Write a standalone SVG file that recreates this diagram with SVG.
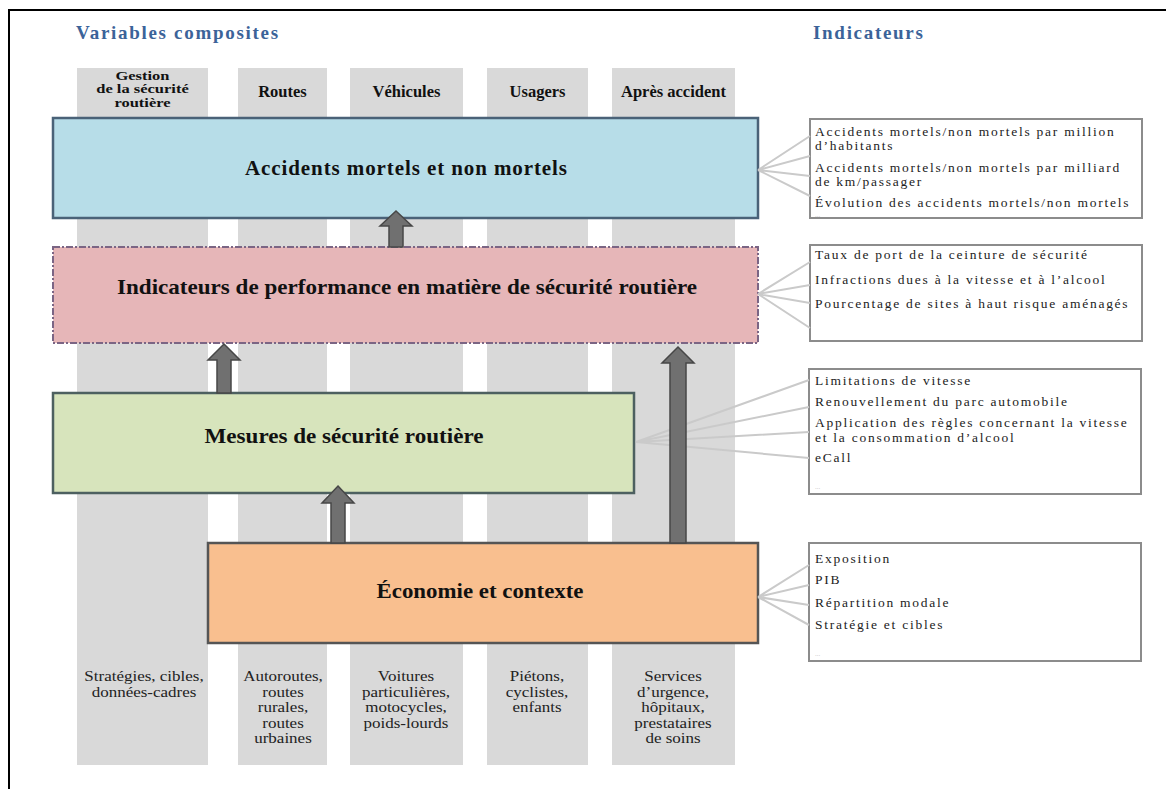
<svg xmlns="http://www.w3.org/2000/svg" width="1166" height="789" viewBox="0 0 1166 789">
<style>
.ttl{font-family:"Liberation Serif","Times New Roman",serif;font-weight:bold;font-size:19px;fill:#3b6399;letter-spacing:1.7px}
.col{fill:#d9d9d9}
.hd{font-family:"Liberation Serif","Times New Roman",serif;font-weight:bold;font-size:16.5px;fill:#111;text-anchor:middle}
.bt{font-family:"Liberation Serif","Times New Roman",serif;font-size:17px;fill:#222;text-anchor:middle}
.main{font-family:"Liberation Serif","Times New Roman",serif;font-weight:bold;font-size:21px;fill:#111;text-anchor:middle}
.ibox{fill:#fff;stroke:#8c8c8c;stroke-width:2}
.it{font-family:"Liberation Serif","Times New Roman",serif;font-size:13.5px;fill:#222;letter-spacing:1.75px}
.dots{font-family:"Liberation Serif","Times New Roman",serif;font-size:7px;fill:#c8c8c8}
.fan{stroke:#cacaca;stroke-width:2;fill:none}
.arr{fill:#707070;stroke:#474747;stroke-width:1.5;stroke-linejoin:miter}
</style>
<rect x="0" y="0" width="1166" height="789" fill="#fff"/>
<rect x="9" y="10" width="1170" height="800" fill="none" stroke="#000" stroke-width="2"/>

<text class="ttl" x="76" y="39">Variables composites</text>
<text class="ttl" x="813" y="39">Indicateurs</text>

<g id="columns">
<rect class="col" x="77" y="68" width="131" height="697"/>
<rect class="col" x="238" y="68" width="89" height="697"/>
<rect class="col" x="350" y="68" width="113" height="697"/>
<rect class="col" x="487" y="68" width="101" height="697"/>
<rect class="col" x="612" y="68" width="123" height="697"/>
</g>

<g id="col-headers">
<text class="hd" transform="matrix(1 0 0 0.74 142.5 79.5)">Gestion</text>
<text class="hd" transform="matrix(1 0 0 0.74 142.5 93)">de la sécurité</text>
<text class="hd" transform="matrix(1 0 0 0.74 142.5 106.5)">routière</text>
<text class="hd" x="282.5" y="97">Routes</text>
<text class="hd" x="406.5" y="97">Véhicules</text>
<text class="hd" x="537.5" y="97">Usagers</text>
<text class="hd" x="673.5" y="97">Après accident</text>
</g>

<g id="col-footers">
<text class="bt" transform="matrix(1 0 0 0.82 144 681)">Stratégies, cibles,</text>
<text class="bt" transform="matrix(1 0 0 0.82 144 696.5)">données-cadres</text>
<text class="bt" transform="matrix(1 0 0 0.82 283 681)">Autoroutes,</text>
<text class="bt" transform="matrix(1 0 0 0.82 283 696.5)">routes</text>
<text class="bt" transform="matrix(1 0 0 0.82 283 712)">rurales,</text>
<text class="bt" transform="matrix(1 0 0 0.82 283 727.5)">routes</text>
<text class="bt" transform="matrix(1 0 0 0.82 283 743)">urbaines</text>
<text class="bt" transform="matrix(1 0 0 0.82 406 681)">Voitures</text>
<text class="bt" transform="matrix(1 0 0 0.82 406 696.5)">particulières,</text>
<text class="bt" transform="matrix(1 0 0 0.82 406 712)">motocycles,</text>
<text class="bt" transform="matrix(1 0 0 0.82 406 727.5)">poids-lourds</text>
<text class="bt" transform="matrix(1 0 0 0.82 537 681)">Piétons,</text>
<text class="bt" transform="matrix(1 0 0 0.82 537 696.5)">cyclistes,</text>
<text class="bt" transform="matrix(1 0 0 0.82 537 712)">enfants</text>
<text class="bt" transform="matrix(1 0 0 0.82 673 681)">Services</text>
<text class="bt" transform="matrix(1 0 0 0.82 673 696.5)">d’urgence,</text>
<text class="bt" transform="matrix(1 0 0 0.82 673 712)">hôpitaux,</text>
<text class="bt" transform="matrix(1 0 0 0.82 673 727.5)">prestataires</text>
<text class="bt" transform="matrix(1 0 0 0.82 673 743)">de soins</text>
</g>

<g id="node-accidents">
<rect x="53" y="118" width="705" height="100" fill="#b7dde8" stroke="#4a6278" stroke-width="2.5"/>
<text class="main" x="406" y="175" textLength="322" lengthAdjust="spacing" font-size="20">Accidents mortels et non mortels</text>
</g>

<g id="node-indicateurs">
<rect x="53" y="247" width="705" height="96" fill="#e6b6b8" stroke="#7b6584" stroke-width="2" stroke-dasharray="7,2,2,2"/>
<text class="main" x="407" y="294" textLength="580" lengthAdjust="spacingAndGlyphs" font-size="23">Indicateurs de performance en matière de sécurité routière</text>
</g>

<g id="node-mesures">
<rect x="53" y="393" width="581" height="100" fill="#d7e4bc" stroke="#4d6060" stroke-width="2.5"/>
<text class="main" x="344" y="443" textLength="279" lengthAdjust="spacingAndGlyphs" font-size="22">Mesures de sécurité routière</text>
</g>

<g id="node-economie">
<rect x="208" y="543" width="550" height="100" fill="#f9bf8f" stroke="#555" stroke-width="2.5"/>
<text class="main" x="480" y="598" textLength="207" lengthAdjust="spacingAndGlyphs" font-size="22">Économie et contexte</text>
</g>

<g id="ind-accidents">
<rect class="ibox" x="810" y="119" width="332" height="99"/>
<text class="it" transform="matrix(1 0 0 0.92 815 136)">Accidents mortels/non mortels par million</text>
<text class="it" transform="matrix(1 0 0 0.92 815 150)">d’habitants</text>
<text class="it" transform="matrix(1 0 0 0.92 815 172)">Accidents mortels/non mortels par milliard</text>
<text class="it" transform="matrix(1 0 0 0.92 815 186)">de km/passager</text>
<text class="it" transform="matrix(1 0 0 0.92 815 207)">Évolution des accidents mortels/non mortels</text>
<text class="dots" x="815" y="216.5">...</text>
</g>

<g id="ind-performance">
<rect class="ibox" x="810" y="245" width="332" height="96"/>
<text class="it" transform="matrix(1 0 0 0.92 815 259)">Taux de port de la ceinture de sécurité</text>
<text class="it" transform="matrix(1 0 0 0.92 815 284)">Infractions dues à la vitesse et à l’alcool</text>
<text class="it" transform="matrix(1 0 0 0.92 815 308)">Pourcentage de sites à haut risque aménagés</text>
</g>

<g id="ind-mesures">
<rect class="ibox" x="809" y="369" width="332" height="125"/>
<text class="it" transform="matrix(1 0 0 0.92 815 385)">Limitations de vitesse</text>
<text class="it" transform="matrix(1 0 0 0.92 815 406)">Renouvellement du parc automobile</text>
<text class="it" transform="matrix(1 0 0 0.92 815 427)">Application des règles concernant la vitesse</text>
<text class="it" transform="matrix(1 0 0 0.92 815 442)">et la consommation d’alcool</text>
<text class="it" transform="matrix(1 0 0 0.92 815 462)">eCall</text>
<text class="dots" x="815" y="489">...</text>
</g>

<g id="ind-economie">
<rect class="ibox" x="809" y="543" width="332" height="118"/>
<text class="it" transform="matrix(1 0 0 0.92 815 563)">Exposition</text>
<text class="it" transform="matrix(1 0 0 0.92 815 584)">PIB</text>
<text class="it" transform="matrix(1 0 0 0.92 815 607)">Répartition modale</text>
<text class="it" transform="matrix(1 0 0 0.92 815 629)">Stratégie et cibles</text>
<text class="dots" x="815" y="656">...</text>
</g>

<g id="connectors">
<path class="fan" d="M758,170 L810,136 M758,170 L810,156 M758,170 L810,176 M758,170 L810,196"/>
<path class="fan" d="M758,294 L810,262 M758,294 L810,285 M758,294 L810,303 M758,294 L810,328"/>
<path class="fan" d="M636,442 L809,380 M636,442 L809,407 M636,442 L809,432 M636,442 L809,458"/>
<path class="fan" d="M758,597 L809,565 M758,597 L809,585 M758,597 L809,605 M758,597 L809,625"/>
<path class="arr" d="M396,211 L412,226 L403,226 L403,247 L389,247 L389,226 L380,226 Z"/>
<path class="arr" d="M224,344 L240,360 L231,360 L231,393 L217,393 L217,360 L208,360 Z"/>
<path class="arr" d="M338,486 L354,503 L345,503 L345,543 L331,543 L331,503 L322,503 Z"/>
<path class="arr" d="M678,347 L694,363 L686,363 L686,543 L670,543 L670,363 L662,363 Z"/>
</g>
</svg>
